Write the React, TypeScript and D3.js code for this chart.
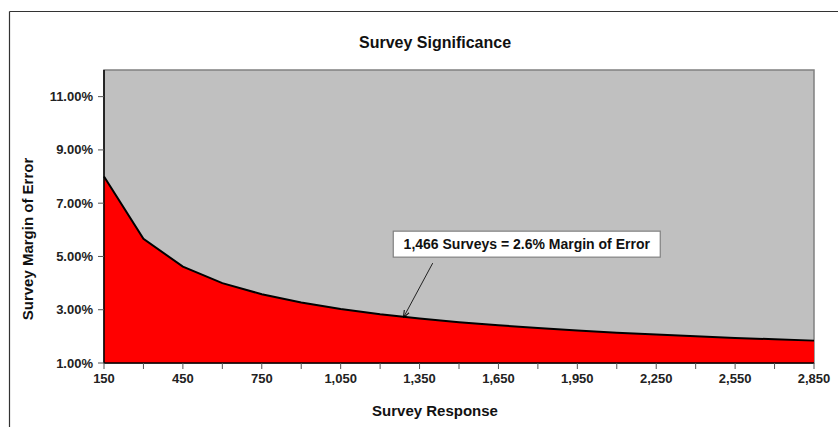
import React from "react";
import * as d3 from "d3";

// Sample sizes (survey responses) and the margin of error (%) at each
const responses = [150, 300, 450, 600, 750, 900, 1050, 1200, 1350, 1500, 1650, 1800, 1950, 2100, 2250, 2400, 2550, 2700, 2850];
const marginOfError = [8.0, 5.66, 4.62, 4.0, 3.58, 3.27, 3.03, 2.83, 2.67, 2.53, 2.42, 2.31, 2.22, 2.14, 2.07, 2.0, 1.94, 1.89, 1.84];

const xTickValues = [150, 300, 450, 600, 750, 900, 1050, 1200, 1350, 1500, 1650, 1800, 1950, 2100, 2250, 2400, 2550, 2700, 2850];
const xLabelValues = [150, 450, 750, 1050, 1350, 1650, 1950, 2250, 2550, 2850];
const yTickValues = [1, 3, 5, 7, 9, 11];

const title = "Survey Significance";
const xTitle = "Survey Response";
const yTitle = "Survey Margin of Error";
const calloutText = "1,466 Surveys = 2.6% Margin of Error";

// Callout anchor (box corner and arrow ends) in data units
const calloutBox = { n: 1250, pct: 5.95 };
const arrowFrom = { n: 1400, pct: 4.75 };
const arrowTo = { n: 1290, pct: 2.73 };

const W = 838;
const H = 427;
const plot = { left: 104, right: 814, top: 70, bottom: 363 };
const FONT = "'Liberation Sans', Arial, sans-serif";

export default function App() {
  const x = d3.scaleLinear().domain([150, 2850]).range([plot.left, plot.right]);
  const y = d3.scaleLinear().domain([1, 12]).range([plot.bottom, plot.top]);

  const data = responses.map((n, i) => ({ n, v: marginOfError[i] }));
  const area = d3
    .area<{ n: number; v: number }>()
    .x((d) => x(d.n))
    .y0(y(1))
    .y1((d) => y(d.v));
  const line = d3
    .line<{ n: number; v: number }>()
    .x((d) => x(d.n))
    .y((d) => y(d.v));

  const fmtX = d3.format(",");
  const fmtY = (v: number) => v.toFixed(2) + "%";

  const bx = x(calloutBox.n);
  const by = y(calloutBox.pct);
  const ax1 = x(arrowFrom.n);
  const ay1 = y(arrowFrom.pct);
  const ax2 = x(arrowTo.n);
  const ay2 = y(arrowTo.pct);

  return (
    <svg
      width={W}
      height={H}
      style={{ position: "absolute", left: 0, top: 0, background: "#fff" }}
      fontFamily={FONT}
    >
      <defs>
        <marker id="arrowHead" viewBox="0 0 10 10" refX="9" refY="5" markerWidth="7" markerHeight="7" orient="auto">
          <path d="M0,1 L10,5 L0,9" fill="none" stroke="#000" strokeWidth={1.4} />
        </marker>
      </defs>
      {/* chart frame */}
      <line x1={9.5} y1={11.5} x2={W} y2={11.5} stroke="#333" strokeWidth={1.2} />
      <line x1={9.5} y1={11.5} x2={9.5} y2={H} stroke="#333" strokeWidth={1.2} />

      <text x={435} y={48} textAnchor="middle" fontSize={16} fontWeight="bold" fill="#111">
        {title}
      </text>

      {/* plot area */}
      <rect
        x={plot.left}
        y={plot.top}
        width={plot.right - plot.left}
        height={plot.bottom - plot.top}
        fill="#c0c0c0"
        stroke="#808080"
        strokeWidth={1.5}
      />
      <path d={area(data) ?? ""} fill="#ff0000" />
      <path d={line(data) ?? ""} fill="none" stroke="#000" strokeWidth={2} />

      {/* axes */}
      <line x1={plot.left} y1={plot.bottom} x2={plot.right} y2={plot.bottom} stroke="#000" strokeWidth={1.5} />
      <line x1={plot.left} y1={plot.top} x2={plot.left} y2={plot.bottom} stroke="#000" strokeWidth={1.5} />
      {yTickValues.map((v) => (
        <g key={"y" + v}>
          <line x1={plot.left - 6} x2={plot.left} y1={y(v)} y2={y(v)} stroke="#555" />
          <text x={93} y={y(v)} dy="0.35em" textAnchor="end" fontSize={13} fontWeight="bold" fill="#222">
            {fmtY(v)}
          </text>
        </g>
      ))}
      {xTickValues.map((v) => (
        <line key={"xt" + v} x1={x(v)} x2={x(v)} y1={plot.bottom} y2={plot.bottom + 6} stroke="#555" />
      ))}
      {xLabelValues.map((v) => (
        <text key={"xl" + v} x={x(v)} y={383} textAnchor="middle" fontSize={13} fontWeight="bold" fill="#222">
          {fmtX(v)}
        </text>
      ))}

      <text x={435} y={416} textAnchor="middle" fontSize={15} fontWeight="bold" fill="#111">
        {xTitle}
      </text>
      <text
        transform={`translate(33,239) rotate(-90)`}
        textAnchor="middle"
        fontSize={15}
        fontWeight="bold"
        fill="#111"
      >
        {yTitle}
      </text>

      {/* callout */}
      <line x1={ax1} y1={ay1} x2={ax2} y2={ay2} stroke="#222" strokeWidth={1} markerEnd="url(#arrowHead)" />
      <rect x={bx} y={by} width={267} height={26} fill="#fff" stroke="#808080" strokeWidth={1.2} />
      <text x={bx + 133.5} y={by + 13} dy="0.35em" textAnchor="middle" fontSize={14} fontWeight="bold" fill="#111">
        {calloutText}
      </text>
    </svg>
  );
}
